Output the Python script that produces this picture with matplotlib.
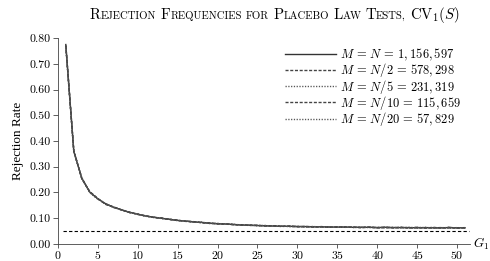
import numpy as np
import matplotlib
matplotlib.use("Agg")
import matplotlib.pyplot as plt
from matplotlib.offsetbox import TextArea, HPacker, AnchoredOffsetbox

plt.rcParams['font.family'] = 'cmr10'
plt.rcParams['mathtext.fontset'] = 'cm'
plt.rcParams['axes.formatter.use_mathtext'] = True

# rejection rates by G1 (1..51)
g1 = list(range(1, 52))
rate_full = [0.775, 0.360, 0.255, 0.201, 0.175, 0.155, 0.142, 0.132, 0.122, 0.115,
             0.108, 0.103, 0.099, 0.095, 0.091, 0.088, 0.085, 0.083, 0.080, 0.078,
             0.077, 0.075, 0.073, 0.072, 0.071, 0.070, 0.069, 0.068, 0.068, 0.067,
             0.067, 0.066, 0.066, 0.065, 0.065, 0.065, 0.064, 0.064, 0.064, 0.063,
             0.064, 0.063, 0.063, 0.063, 0.062, 0.063, 0.062, 0.062, 0.063, 0.062, 0.062]
rate_half = [0.770, 0.362, 0.253, 0.203, 0.176, 0.154, 0.143, 0.131, 0.123, 0.114,
             0.109, 0.102, 0.100, 0.094, 0.092, 0.087, 0.086, 0.082, 0.081, 0.077,
             0.078, 0.074, 0.074, 0.071, 0.072, 0.069, 0.070, 0.067, 0.069, 0.066,
             0.068, 0.065, 0.067, 0.064, 0.066, 0.064, 0.065, 0.063, 0.065, 0.062,
             0.065, 0.062, 0.064, 0.062, 0.064, 0.061, 0.064, 0.061, 0.064, 0.061, 0.063]
rate_fifth = [0.768, 0.358, 0.256, 0.200, 0.174, 0.156, 0.141, 0.133, 0.121, 0.116,
              0.107, 0.104, 0.098, 0.096, 0.090, 0.089, 0.084, 0.084, 0.079, 0.079,
              0.076, 0.076, 0.072, 0.073, 0.070, 0.071, 0.068, 0.069, 0.067, 0.068,
              0.066, 0.067, 0.065, 0.066, 0.064, 0.066, 0.063, 0.065, 0.063, 0.064,
              0.063, 0.064, 0.062, 0.064, 0.061, 0.064, 0.061, 0.063, 0.061, 0.063, 0.061]
rate_tenth = [0.772, 0.361, 0.254, 0.202, 0.176, 0.153, 0.143, 0.131, 0.122, 0.115,
              0.108, 0.103, 0.100, 0.095, 0.091, 0.088, 0.086, 0.082, 0.080, 0.078,
              0.076, 0.075, 0.073, 0.073, 0.071, 0.070, 0.070, 0.068, 0.068, 0.067,
              0.066, 0.066, 0.066, 0.065, 0.064, 0.065, 0.064, 0.063, 0.064, 0.063,
              0.062, 0.063, 0.063, 0.062, 0.063, 0.062, 0.062, 0.063, 0.062, 0.062, 0.062]
rate_twentieth = [0.766, 0.359, 0.257, 0.199, 0.174, 0.156, 0.141, 0.132, 0.121, 0.116,
                  0.107, 0.104, 0.098, 0.096, 0.090, 0.089, 0.084, 0.084, 0.079, 0.079,
                  0.077, 0.075, 0.074, 0.072, 0.071, 0.071, 0.068, 0.069, 0.067, 0.067,
                  0.066, 0.067, 0.065, 0.066, 0.065, 0.064, 0.065, 0.063, 0.065, 0.062,
                  0.064, 0.062, 0.064, 0.061, 0.064, 0.062, 0.063, 0.061, 0.064, 0.061, 0.062]
labels = [r"$M\,=\,N\,=\,1,156,597$",
          r"$M\,=\,N/2\,=\,578,298$",
          r"$M\,=\,N/5\,=\,231,319$",
          r"$M\,=\,N/10\,=\,115,659$",
          r"$M\,=\,N/20\,=\,57,829$"]
nominal = 0.05

fig = plt.figure(figsize=(4.9, 2.61), dpi=100)
ax = fig.add_axes([0.118, 0.066, 0.841, 0.788])

styles = [('-', '#333333'), ((0, (2.2, 1.2)), '#444444'), ((0, (0.9, 1.1)), '#555555'),
          ((0, (2.2, 1.2)), '#444444'), ((0, (0.9, 1.1)), '#555555')]
for ys, lab, (ls, col) in zip([rate_full, rate_half, rate_fifth, rate_tenth, rate_twentieth],
                              labels, styles):
    ax.plot(g1, ys, ls=ls, color=col, lw=1.0, label=lab)

ax.hlines(nominal, 0.6, 51.5, colors='black', linestyles=(0, (3, 2)), lw=0.8)

ax.set_xlim(0, 51.6)
ax.set_ylim(0, 0.8)
ax.set_xticks(np.arange(0, 51, 5))
ax.set_yticks(np.arange(0, 0.81, 0.1))
ax.set_yticklabels([f"{v:.2f}" for v in np.arange(0, 0.81, 0.1)])
for s in ['top', 'right']:
    ax.spines[s].set_visible(False)
for s in ['left', 'bottom']:
    ax.spines[s].set_linewidth(0.6)
    ax.spines[s].set_color('#444444')
ax.tick_params(direction='out', length=3.5, width=0.6, labelsize=8.5, pad=1.5, color='#444444')
ax.tick_params(axis='x', length=3, pad=1)
ax.set_ylabel("Rejection Rate", fontsize=9.5, family='Liberation Serif', labelpad=4)
ax.text(1.008, 0.0, r"$G_1$", transform=ax.transAxes, fontsize=9.5, va='center', ha='left')

ax.legend(loc='upper right', bbox_to_anchor=(1.0, 1.0), frameon=False, fontsize=9,
          handlelength=4.1, handletextpad=0.35, labelspacing=-0.14, borderaxespad=0.3)

# small caps title
big, small = 10.7, 7.7
def word(first, rest):
    parts = []
    if first:
        parts.append(TextArea(first, textprops=dict(fontsize=big)))
    if rest:
        parts.append(TextArea(rest, textprops=dict(fontsize=small)))
    return HPacker(children=parts, align='baseline', pad=0, sep=0)

words = [word("R", "EJECTION"), word("F", "REQUENCIES"), word("", "FOR"),
         word("P", "LACEBO"), word("L", "AW"), word("T", "ESTS,"),
         TextArea(r"CV$_1$($S$)", textprops=dict(fontsize=big))]
title = HPacker(children=words, align='baseline', pad=0, sep=3)
box = AnchoredOffsetbox(loc='center', child=title, bbox_to_anchor=(0.561, 0.942),
                        bbox_transform=fig.transFigure, frameon=False, pad=0, borderpad=0)
fig.add_artist(box)

fig.savefig("out.png", dpi=100)
